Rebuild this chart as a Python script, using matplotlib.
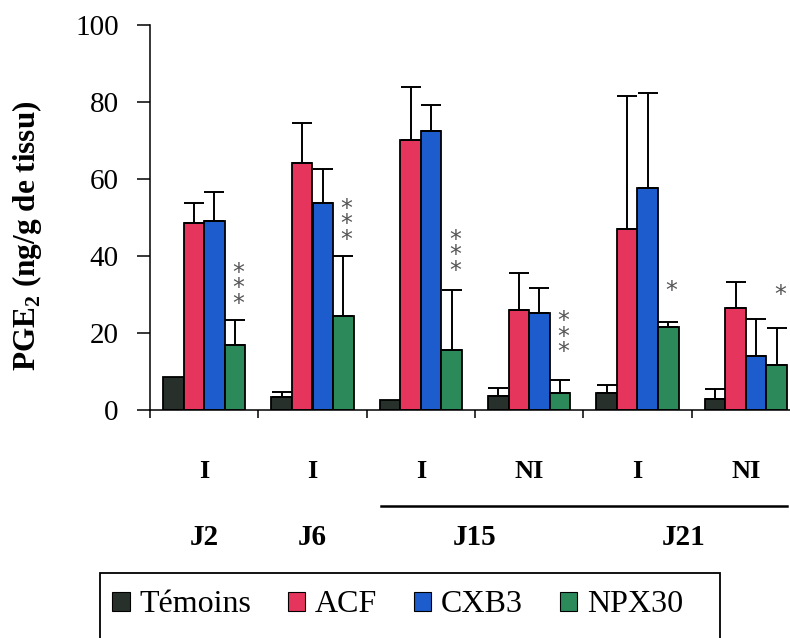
import matplotlib
matplotlib.use("Agg")
import matplotlib.pyplot as plt
import matplotlib.patches as mpatches
import matplotlib.lines as mlines
import numpy as np

plt.rcParams['font.family'] = ['Liberation Serif', 'DejaVu Serif']
plt.rcParams['mathtext.fontset'] = 'custom'
plt.rcParams['mathtext.rm'] = 'Liberation Serif'
plt.rcParams['mathtext.bf'] = 'Liberation Serif:bold'

# ---- data ----
conditions = ['I', 'I', 'I', 'NI', 'I', 'NI']
days = ['J2', 'J6', 'J15', 'J21']
series_names = ['Témoins', 'ACF', 'CXB3', 'NPX30']
temoins = [8.5, 3.5, 2.5, 3.6, 4.3, 2.8]
temoins_err = [0.0, 1.3, 0.0, 2.0, 2.2, 2.6]
acf = [48.5, 64.2, 70.1, 26.0, 46.9, 26.6]
acf_err = [5.2, 10.4, 13.7, 9.5, 34.7, 6.7]
cxb3 = [49.2, 53.8, 72.5, 25.3, 57.6, 13.9]
cxb3_err = [7.5, 8.8, 6.7, 6.5, 24.7, 9.7]
npx30 = [16.9, 24.4, 15.6, 4.3, 21.6, 11.7]
npx30_err = [6.6, 15.6, 15.6, 3.5, 1.3, 9.7]
star_counts = [3, 3, 3, 3, 1, 1]
star_top = [36.4, 53.0, 45.0, 23.8, 32.0, 31.0]
yticks = [0, 20, 40, 60, 80, 100]

colors = ['#28302c', '#e6355c', '#1d5ccc', '#2c8a5a']

W, H = 790, 638
fig = plt.figure(figsize=(W / 100, H / 100), dpi=100)
ax = fig.add_axes([150 / W, (H - 410) / H, 650 / W, 385 / H])

x = np.arange(len(conditions))
bw = 0.19
offsets = [-1.5 * bw, -0.5 * bw, 0.5 * bw, 1.5 * bw]
vals = [temoins, acf, cxb3, npx30]
errs = [temoins_err, acf_err, cxb3_err, npx30_err]

for k in range(4):
    xs = x + offsets[k]
    ax.bar(xs, vals[k], width=bw, color=colors[k], edgecolor='black',
           linewidth=1.3, zorder=2, label=series_names[k])
    v = np.array(vals[k]); e = np.array(errs[k])
    m = e > 0
    ax.errorbar(xs[m], v[m], yerr=[np.zeros(m.sum()), e[m]], fmt='none',
                ecolor='black', elinewidth=1.4, capsize=7.5, capthick=1.4,
                zorder=3)

# significance stars (one text block per group)
for i in range(len(conditions)):
    n = star_counts[i]
    yc = star_top[i] - (n - 1) * 3.6 / 2 - 1.2
    ax.text(x[i] + offsets[3] + 0.03, yc, '\n'.join(['*'] * n),
            ha='center', va='center', fontsize=17, color='#555555',
            family='DejaVu Sans', linespacing=0.56, zorder=4)

ax.set_xlim(-0.5, len(conditions) - 0.5)
ax.set_ylim(0, 100)
ax.set_yticks(yticks)
ax.set_yticklabels([str(t) for t in yticks], fontsize=21)
ax.set_xticks(np.arange(-0.5, len(conditions) - 0.5 + 0.01, 1.0))
ax.set_xticklabels([])
ax.tick_params(axis='y', direction='out', length=9.5, width=1.1, pad=13)
ax.tick_params(axis='x', direction='out', length=6, width=1.1)
for s in ['top', 'right']:
    ax.spines[s].set_visible(False)
for s in ['left', 'bottom']:
    ax.spines[s].set_linewidth(1.1)

# category labels
trans = ax.get_xaxis_transform()
for i, c in enumerate(conditions):
    ax.text(x[i], -0.161, c, transform=trans, ha='center', va='center',
            fontsize=19, fontweight='bold')
day_pos = [0.0, 1.0, 2.5, 4.43]
for d, p in zip(days, day_pos):
    ax.text(p, -0.33, d, transform=trans, ha='center', va='center',
            fontsize=21, fontweight='bold')
ax.add_line(mlines.Line2D([1.63, 5.38], [-0.249, -0.249], transform=trans,
                          color='black', linewidth=1.8, clip_on=False))

# y label
fig.text(27 / W, 1 - 236 / H, r'PGE$_{\mathbf{2}}$ (ng/g de tissu)',
         rotation=90, ha='center', va='center', fontsize=22.5,
         fontweight='bold')

# legend
fig.patches.append(mpatches.Rectangle((100 / W, -0.05), 620 / W,
                                      (H - 573) / H + 0.05,
                                      transform=fig.transFigure,
                                      facecolor='white', edgecolor='black',
                                      linewidth=1.3, clip_on=False))
handles = [mpatches.Patch(facecolor=colors[k], edgecolor='black',
                          linewidth=0.8, label=series_names[k])
           for k in range(4)]
fig.legend(handles=handles, loc='center left', ncol=4, frameon=False,
           bbox_to_anchor=(112 / W, 1 - 605 / H),
           prop={'family': 'Liberation Serif', 'size': 23},
           handlelength=0.55, handleheight=0.55, handletextpad=0.3,
           columnspacing=1.15, borderpad=0, borderaxespad=0)

fig.savefig('out.png', dpi=100, facecolor='white')
